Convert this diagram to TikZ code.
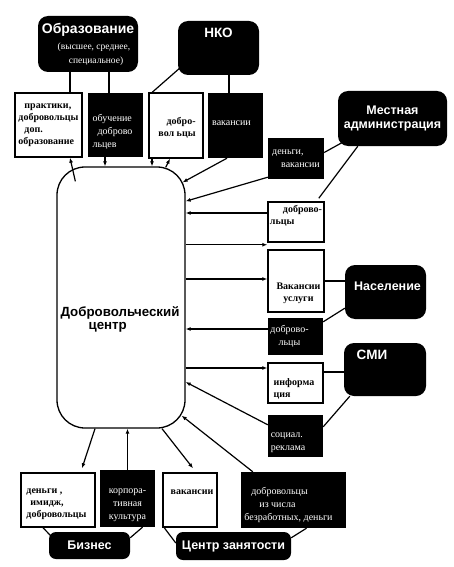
\documentclass[tikz,border=0pt]{standalone}
\usepackage{fontspec}
\setmainfont{Liberation Serif}
\setsansfont{Liberation Sans}
\usetikzlibrary{positioning, calc, arrows.meta}

\newcommand{\subfont}{\rmfamily\mdseries\fontsize{9.5}{13}\selectfont}

\begin{document}
\begin{tikzpicture}[x=1pt, y=-1pt,
    lightbox/.style={draw, line width=1.5pt, fill=white, inner sep=0pt},
    darkbox/.style={fill=black, inner sep=0pt},
    lighttext/.style={font=\bfseries\fontsize{10}{12}\selectfont, align=left},
    darktext/.style={text=white, font=\fontsize{10}{13}\selectfont, align=left},
    rolebox/.style={fill=black, text=white, rounded corners=10pt, align=center,
      font=\sffamily\bfseries\fontsize{12.5}{14}\selectfont},
    rolelabel/.style={text=white, font=\sffamily\bfseries\fontsize{12.5}{15}\selectfont},
    hub/.style={draw, line width=1.3pt, rounded corners=28pt, fill=white},
    link/.style={line width=1.2pt},
    flow/.style={line width=1.2pt, -{Latex[length=5pt, width=4pt]}}]

  \useasboundingbox (0,0) rectangle (453,567);

  % Volunteer centre
  \node[hub, minimum width=128pt, minimum height=261pt] (vc) at (121,297.5) {};
  \node[font=\sffamily\bfseries\fontsize{13.3}{13.5}\selectfont, align=left] (vctext) at (120,319.5)
    {Добровольческий\\\hspace*{28pt}центр};

  % Partners
  \node[rolebox, minimum width=100pt, minimum height=56pt] (edu) at (88,44)
    {\fontsize{14}{16}\selectfont Образование\\[2pt]
     \subfont\hspace*{12pt}(высшее, среднее,\\\subfont\hspace*{16pt}специальное)};
  \node[rolebox, minimum width=81pt, minimum height=54pt,
    label={[rolelabel, font=\sffamily\bfseries\fontsize{13.5}{15}\selectfont, yshift=15pt]center:НКО}] (nko) at (218.5,48) {};
  \node[rolebox, minimum width=109pt, minimum height=55pt] (admin) at (392.5,118.5)
    {Местная\\администрация};
  \node[rolebox, minimum width=81pt, minimum height=54pt,
    label={[rolelabel, xshift=2pt, yshift=6pt]center:Население}] (naselenie) at (385.5,292) {};
  \node[rolebox, minimum width=82pt, minimum height=53pt,
    label={[rolelabel, font=\sffamily\bfseries\fontsize{13.5}{15}\selectfont, xshift=-13pt, yshift=14.5pt]center:СМИ}] (smi) at (385,369.5) {};
  \node[rolebox, minimum width=81pt, minimum height=27pt, rounded corners=7pt] (biznes) at (89.5,545.5) {Бизнес};
  \node[rolebox, minimum width=115pt, minimum height=28pt, rounded corners=7pt] (czentr) at (233.5,546) {Центр занятости};

  % Top row
  \node[lightbox, minimum width=67pt, minimum height=64pt,
    label={[lighttext]center:\hspace*{6pt}практики,\\добровольцы\\\hspace*{6pt}доп.\\образование}] (praktiki) at (48.5,125) {};
  \node[darkbox, minimum width=55pt, minimum height=64pt,
    label={[darktext, xshift=-3pt, yshift=-7pt]center:обучение\\\hspace*{5pt}доброво\\льцев}] (obuch) at (115.5,125) {};
  \node[lightbox, minimum width=54pt, minimum height=65pt,
    label={[lighttext, align=right, xshift=1pt, yshift=-2pt]center:добро-\\вол ьцы}] (dobro1) at (176,125.5) {};
  \node[darkbox, minimum width=55pt, minimum height=65pt,
    label={[darktext, xshift=-4pt, yshift=2pt]center:вакансии}] (vakan1) at (235.5,125.5) {};

  % Right column
  \node[darkbox, minimum width=56pt, minimum height=41pt,
    label={[darktext]center:деньги,\\\hspace*{9pt}вакансии}] (dengi1) at (296,158.5) {};
  \node[lightbox, minimum width=56pt, minimum height=40pt,
    label={[lighttext, yshift=6pt]center:\hspace*{13pt}доброво-\\льцы}] (dobro2) at (296,222) {};
  \node[lightbox, minimum width=56pt, minimum height=62pt,
    label={[lighttext, align=center, xshift=2.5pt, yshift=-12.5pt]center:Вакансии\\услуги}] (vakusl) at (296,281) {};
  \node[darkbox, minimum width=55pt, minimum height=37pt,
    label={[darktext, align=center, xshift=-6pt]center:доброво-\\льцы}] (dobro3) at (295.5,336.5) {};
  \node[lightbox, minimum width=55pt, minimum height=40pt,
    label={[lighttext, xshift=-1.5pt, yshift=-6pt]center:информа\\ция}] (inform) at (295.5,383) {};
  \node[darkbox, minimum width=55pt, minimum height=42pt,
    label={[darktext, xshift=-7.5pt, yshift=-6.5pt]center:социал.\\реклама}] (social) at (295.5,436) {};

  % Bottom row
  \node[lightbox, minimum width=74pt, minimum height=54pt,
    label={[lighttext, xshift=-1.5pt, yshift=-4.5pt]center:деньги ,\\\hspace*{4pt}имидж,\\добровольцы}] (dengi2) at (58,500) {};
  \node[darkbox, minimum width=55pt, minimum height=57pt,
    label={[darktext, align=center, yshift=-6.5pt]center:корпора-\\тивная\\культура}] (korp) at (127.5,498.5) {};
  \node[lightbox, minimum width=54pt, minimum height=54pt,
    label={[lighttext, xshift=2pt, yshift=8pt]center:вакансии}] (vakan2) at (190,500) {};
  \node[darkbox, minimum width=105pt, minimum height=56pt,
    label={[darktext, xshift=-5pt, yshift=-5pt]center:\hspace*{7pt}добровольцы\\\hspace*{15pt}из числа\\безработных, деньги}] (bezrab) at (293.5,500) {};

  % Links to partners
  \draw[link] ([xshift=21.5pt]praktiki.north) -- ([xshift=21.5pt]praktiki.north |- edu.south);
  \draw[link] ([xshift=-6.5pt]obuch.north) -- ([xshift=-6.5pt]obuch.north |- edu.south);
  \draw[link] ([xshift=4pt]dobro1.north west) -- ([xshift=3pt, yshift=8pt]nko.south west);
  \draw[link] ([xshift=-6.5pt]vakan1.north) -- ([xshift=-6.5pt]vakan1.north |- nko.south);
  \draw[link] ([yshift=6pt]dengi1.east) -- ([xshift=5pt, yshift=4pt]admin.south west);
  \draw[link] ([xshift=-6pt, yshift=3pt]dobro2.north east) -- ([xshift=20pt]admin.south west);
  \draw[link] (vakusl.east) -- (vakusl.east -| naselenie.west);
  \draw[link] ([yshift=-4pt]dobro3.north east) -- ([yshift=11pt]naselenie.south west);
  \draw[link] ([yshift=11pt]inform.east) -- ([yshift=11pt]inform.east -| smi.west);
  \draw[link] ([yshift=-12pt]social.north east) -- ([xshift=6pt]smi.south west);
  \draw[link] ([xshift=-15pt]dengi2.south) -- ([xshift=2pt, yshift=-4pt]biznes.north west);
  \draw[link] ([xshift=15pt]korp.south) -- ([yshift=-6pt]biznes.north east);
  \draw[link] ([xshift=2pt]vakan2.south west) -- ([yshift=3pt]czentr.west);
  \draw[link] ([xshift=13pt]bezrab.south) -- ([yshift=-6pt]czentr.north east);

  % Flows at the top
  \draw[flow] ([xshift=19pt, yshift=-15pt]vc.north west) -- ([xshift=21.5pt]praktiki.south);
  \draw[flow] ([xshift=-10.5pt]obuch.south) -- ([xshift=-10.5pt]obuch.south |- vc.north);
  \draw[flow] ([xshift=-24pt]dobro1.south) -- ([xshift=-24pt]dobro1.south |- vc.north);
  \draw[flow] ([xshift=-20pt, yshift=-1pt]vc.north east) -- ([xshift=-6pt]dobro1.south);
  \draw[flow] ([xshift=-8.5pt]vakan1.south) -- ([xshift=-3pt, yshift=-16pt]vc.north east);

  % Flows on the right
  \coordinate (din) at ([yshift=9pt]dobro2.west);
  \coordinate (dout) at ([yshift=-2pt]dobro2.south west);
  \coordinate (vout) at ([yshift=2pt]vakusl.west);
  \coordinate (kin) at ([yshift=7.5pt]dobro3.west);
  \coordinate (iout) at ([yshift=15pt]inform.west);
  \draw[flow] ([yshift=2pt]dengi1.south west) -- (vc.east |- dobro2.north);
  \foreach \c in {din, kin}
    \draw[flow] (\c) -- (\c -| vc.east);
  \foreach \c in {dout, vout, iout}
    \draw[flow] (vc.east |- \c) -- (\c);
  \draw[flow] ([yshift=-10pt]social.north west) -- ([yshift=-84.5pt]vc.east);
  \draw[flow] ([xshift=12pt]bezrab.north west) -- ([xshift=-4pt, yshift=13pt]vc.south east);

  % Flows at the bottom
  \draw[flow] ([xshift=-26pt]vc.south) -- ([xshift=24pt, yshift=4pt]dengi2.north);
  \draw[flow] (korp.north) -- (korp.north |- vc.south);
  \draw[flow] ([xshift=41pt]vc.south) -- ([xshift=3pt, yshift=4pt]vakan2.north);
\end{tikzpicture}
\end{document}
